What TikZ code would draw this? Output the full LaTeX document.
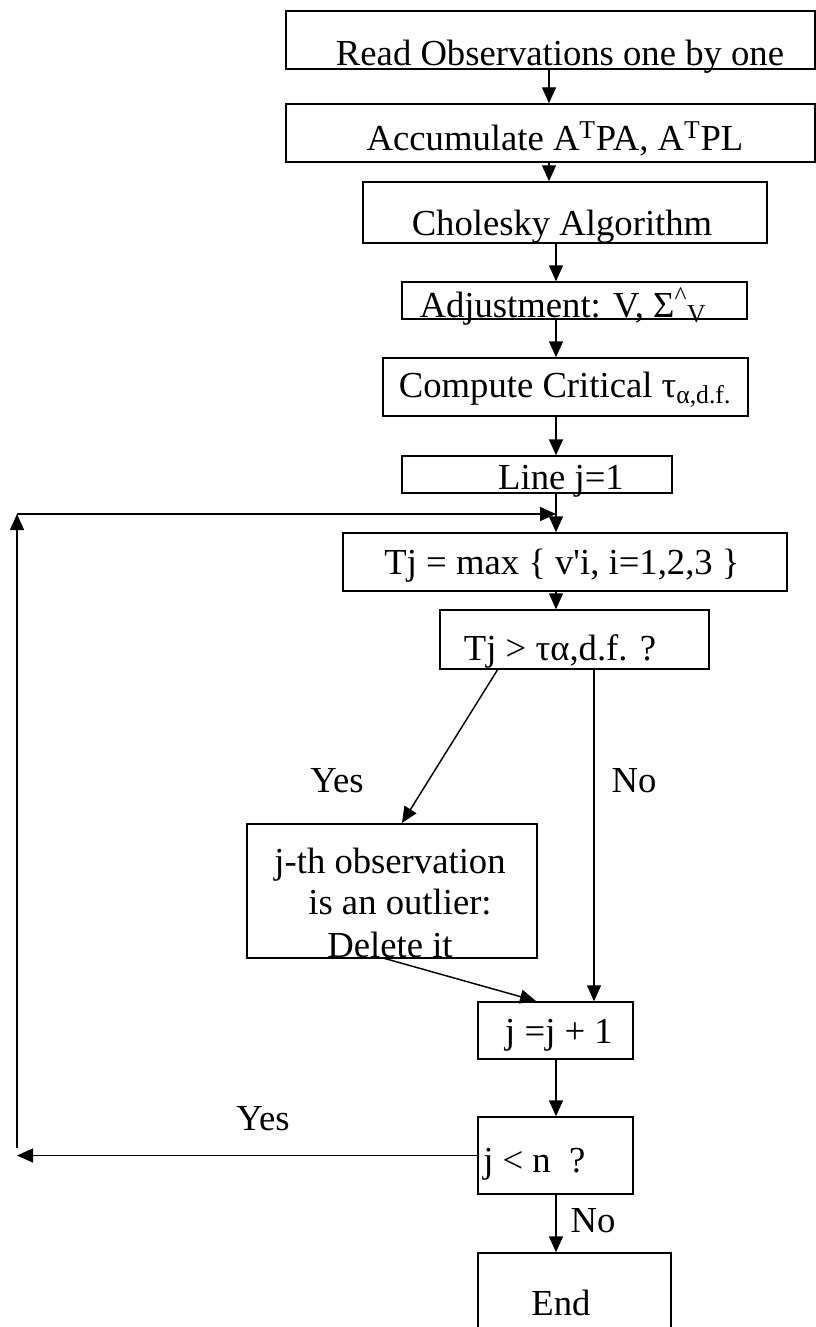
\documentclass[tikz,border=0pt]{standalone}
\usepackage{fontspec}
\setmainfont{Liberation Serif}
\usetikzlibrary{fit,arrows.meta}
\tikzset{
  box/.style={draw, line width=1.1pt, inner sep=0pt},
  txt/.style={inner sep=0pt, font=\fontsize{27.5}{31}\selectfont},
  arr/.style={line width=1.1pt, -{Triangle[length=12pt,width=10.5pt]}},
  ln/.style={line width=1.1pt}
}
\begin{document}
\begin{tikzpicture}[x=0.75pt,y=-0.75pt]
\clip (0,0) rectangle (816,1327);
\fill[white] (0,0) rectangle (816,1327);
% boxes
\node[box, fit={(286,11) (815,69)}] (b1) {};
\node[box, fit={(286,104) (815,162)}] (b2) {};
\node[box, fit={(363,182) (767,243)}] (b3) {};
\node[box, fit={(402,282) (747,319)}] (b4) {};
\node[box, fit={(383,358) (748,416)}] (b5) {};
\node[box, fit={(402,456) (672,493)}] (b6) {};
\node[box, fit={(343,533) (787,591)}] (b7) {};
\node[box, fit={(440,610) (709,669)}] (b8) {};
\node[box, fit={(247,824) (537,958)}] (b9) {};
\node[box, fit={(478,1002) (633,1059)}] (b10) {};
\node[box, fit={(478,1117) (633,1194)}] (b11) {};
\node[box, fit={(478,1253) (671,1345)}] (b12) {};
% texts
\node[txt, anchor=base] (t1) at (560,66) {Read Observations one by one};
\node[txt, anchor=base] (t2) at (555,151) {Accumulate A\textsuperscript{T}PA, A\textsuperscript{T}PL};
\node[txt, anchor=base] (t3) at (562,235) {Cholesky Algorithm};
\node[txt, anchor=base] (t4) at (563,317) {Adjustment: V, Σ\textsuperscript{\textasciicircum}\textsubscript{V}};
\node[txt, anchor=base] (t5) at (565,397) {Compute Critical τ\textsubscript{α,d.f.}};
\node[txt, anchor=base] (t6) at (561,489) {Line j=1};
\node[txt, anchor=base] (t7) at (562,574) {Tj = max \{ v\textquotesingle i, i=1,2,3 \}};
\node[txt, anchor=base] (t8) at (560,660) {Tj > τα,d.f. ?};
\node[txt, anchor=base] (t9a) at (390,873) {j-th observation};
\node[txt, anchor=base] (t9b) at (400,914) {is an outlier:};
\node[txt, anchor=base] (t9c) at (390,957) {Delete it};
\node[txt, anchor=base] (t10) at (559,1043) {j =j + 1};
\node[txt, anchor=base west] (t11) at (483,1172) {j < n\ \ ?};
\node[txt, anchor=base] (t12) at (561,1315) {End};
% labels
\node[txt, anchor=base] (ly1) at (337,792) {Yes};
\node[txt, anchor=base] (ln1) at (634,792) {No};
\node[txt, anchor=base] (ly2) at (263,1130) {Yes};
\node[txt, anchor=base] (ln2) at (593,1232) {No};
% helper coordinates
\coordinate (ax) at (556,0);
\coordinate (nx) at (594,0);
\coordinate (lx) at (17,0);
\coordinate (y1) at (498,669);
\coordinate (y2) at (402,823);
\coordinate (d1) at (383,958);
\coordinate (d2) at (536,1001);
\coordinate (lb) at (17,1148);
\coordinate (lt) at (17,514);
% connectors
\draw[arr] (b1.south -| 549,0) -- (b2.north -| 549,0);
\draw[arr] (b2.south -| 549,0) -- (b3.north -| 549,0);
\draw[arr] (b3.south -| ax) -- (b4.north -| ax);
\draw[arr] (b4.south -| ax) -- (b5.north -| ax);
\draw[arr] (b5.south -| ax) -- (b6.north -| ax);
\draw[arr] (b6.south -| ax) -- (b7.north -| ax);
\draw[arr] (b7.south -| ax) -- (b8.north -| ax);
\draw[arr] (y1) -- (y2);
\draw[arr] (b8.south -| nx) -- (b10.north -| nx);
\draw[arr] (d1) -- (d2);
\draw[arr] (b10.south -| ax) -- (b11.north -| ax);
\draw[arr] (b11.south -| ax) -- (b12.north -| ax);
\draw[arr] (b11.west) -- (b11.west -| lx);
\draw[arr] (lb) -- (lt);
\draw[arr] (lt) -- (lt -| ax);
\end{tikzpicture}
\end{document}
